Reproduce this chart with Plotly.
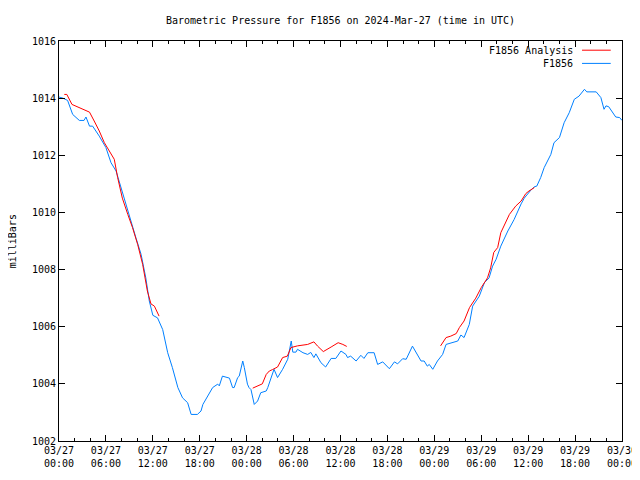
import pandas as pd
import plotly.graph_objects as go

BASE = pd.Timestamp("2024-03-27 00:00")

# Observed pressure (F1856): hours since 03/27 00:00 UTC, millibars
obs_hours = [0.0, 0.5, 1.1, 1.75, 2.6, 3.2, 3.45, 3.9, 4.3, 5.15, 6.0, 6.65, 7.3, 7.9, 8.55, 9.2, 9.85,
             10.5, 11.1, 11.55, 12.0, 12.6, 13.26, 13.9, 14.5, 15.2, 15.8, 16.45, 16.9, 17.7, 18.16, 18.4,
             19.65, 20.3, 20.5, 20.9, 21.8, 22.2, 22.4, 22.85, 23.05, 23.5, 23.7, 24.1, 24.3, 24.55, 24.97,
             25.4, 25.8, 26.5, 26.7, 27.1, 27.5, 27.95, 28.6, 29.25, 29.7, 29.9, 30.3, 30.5, 31.2, 31.8,
             32.2, 32.6, 32.85, 33.5, 34.1, 34.8, 35.4, 36.06, 36.7, 36.9, 37.3, 38.0, 38.6, 39.0, 39.5,
             40.3, 40.75, 41.4, 42.25, 42.9, 43.3, 43.95, 44.4, 45.2, 45.85, 46.3, 46.7, 47.1, 47.35, 47.8,
             48.4, 49.06, 49.5, 50.35, 51.0, 51.4, 51.8, 52.47, 52.9, 53.75, 54.4, 55.0, 55.45, 55.9, 56.5,
             57.4, 58.2, 59.1, 59.5, 60.35, 60.8, 61.1, 61.6, 62.05, 62.9, 63.3, 64.0, 64.6, 65.25, 65.9,
             66.5, 67.2, 67.5, 68.7, 69.3, 69.7, 69.95, 70.3, 71.0, 71.2, 71.7, 72.0]
obs_mb = [1014.04, 1014.0, 1013.92, 1013.43, 1013.22, 1013.22, 1013.34, 1013.02, 1013.02, 1012.67, 1012.27,
          1011.74, 1011.45, 1010.87, 1010.28, 1009.7, 1009.1, 1008.53, 1007.71, 1006.9, 1006.4, 1006.31,
          1005.9, 1005.09, 1004.57, 1003.87, 1003.51, 1003.34, 1002.93, 1002.93, 1003.05, 1003.28, 1003.87,
          1003.99, 1003.93, 1004.27, 1004.2, 1003.87, 1003.87, 1004.22, 1004.27, 1004.8, 1004.57, 1003.99,
          1003.87, 1003.8, 1003.28, 1003.4, 1003.69, 1003.75, 1003.87, 1004.22, 1004.51, 1004.22, 1004.51,
          1004.86, 1005.5, 1005.11, 1005.11, 1005.21, 1005.09, 1005.03, 1005.1, 1004.92, 1005.05, 1004.74,
          1004.59, 1004.89, 1004.89, 1005.15, 1005.03, 1004.92, 1004.97, 1004.8, 1005.0, 1004.89, 1005.09,
          1005.09, 1004.68, 1004.77, 1004.53, 1004.77, 1004.7, 1004.88, 1004.86, 1005.32, 1005.03, 1004.8,
          1004.8, 1004.62, 1004.68, 1004.51, 1004.8, 1005.03, 1005.38, 1005.44, 1005.5, 1005.71, 1005.62,
          1006.08, 1006.72, 1007.07, 1007.54, 1007.71, 1008.12, 1008.36, 1008.82, 1009.35, 1009.75, 1010.3,
          1010.5, 1010.78, 1010.9, 1010.92, 1011.22, 1011.57, 1012.03, 1012.44, 1012.62, 1013.14, 1013.49,
          1013.96, 1014.07, 1014.31, 1014.22, 1014.22, 1014.02, 1013.61, 1013.73, 1013.7, 1013.43, 1013.34,
          1013.32, 1013.22]

# Analysis segments (F1856 Analysis)
ana1_hours = [0.68, 1.0, 1.66, 2.6, 3.9, 4.5, 5.15, 5.8, 6.4, 7.07, 7.5, 8.1, 8.8, 9.4, 10.06, 10.7,
              11.3, 11.76, 12.2, 12.8]
ana1_mb = [1014.13, 1014.13, 1013.78, 1013.67, 1013.51, 1013.2, 1012.85, 1012.44, 1012.15, 1011.86,
           1011.22, 1010.5, 1009.93, 1009.47, 1008.88, 1008.18, 1007.25, 1006.8, 1006.72, 1006.37]
ana2_hours = [24.77, 25.6, 26.0, 26.5, 26.9, 27.3, 27.95, 28.6, 29.2, 29.66, 30.5, 31.8, 32.6, 33.07,
              33.8, 34.8, 35.7, 36.3, 36.8]
ana2_mb = [1003.85, 1003.96, 1004.0, 1004.33, 1004.45, 1004.5, 1004.59, 1004.92, 1004.97, 1005.27,
           1005.33, 1005.38, 1005.47, 1005.32, 1005.13, 1005.29, 1005.44, 1005.38, 1005.31]
ana3_hours = [48.8, 49.5, 50.1, 50.8, 51.2, 51.8, 52.5, 53.3, 54.0, 54.8, 55.2, 55.6, 56.1, 56.5, 57.6,
              58.4, 59.1, 59.7, 60.1, 60.8]
ana3_mb = [1005.33, 1005.62, 1005.67, 1005.76, 1005.97, 1006.2, 1006.67, 1007.0, 1007.37, 1007.71,
           1008.06, 1008.6, 1008.77, 1009.29, 1009.93, 1010.22, 1010.4, 1010.66, 1010.75, 1010.87]

tick_hours = [0, 6, 12, 18, 24, 30, 36, 42, 48, 54, 60, 66, 72]
tick_labels = ["03/27<br>00:00", "03/27<br>06:00", "03/27<br>12:00", "03/27<br>18:00",
               "03/28<br>00:00", "03/28<br>06:00", "03/28<br>12:00", "03/28<br>18:00",
               "03/29<br>00:00", "03/29<br>06:00", "03/29<br>12:00", "03/29<br>18:00",
               "03/30<br>00:00"]

RED = "#ff0000"
BLUE = "#0080ff"
FONT = "DejaVu Sans Mono"


def to_time(hours):
    return [None if h is None else BASE + pd.Timedelta(hours=h) for h in hours]


ana_hours = ana1_hours + [None] + ana2_hours + [None] + ana3_hours
ana_mb = ana1_mb + [None] + ana2_mb + [None] + ana3_mb

fig = go.Figure()
fig.add_trace(go.Scatter(x=to_time(obs_hours), y=obs_mb, mode="lines", name="F1856",
                         line=dict(color=BLUE, width=1), showlegend=False))
fig.add_trace(go.Scatter(x=to_time(ana_hours), y=ana_mb, mode="lines", name="F1856 Analysis",
                         line=dict(color=RED, width=1), connectgaps=False, showlegend=False))

# Legend drawn gnuplot-style (text then sample line on the right)
legend_items = [("F1856 Analysis", RED, 0.977), ("F1856", BLUE, 0.944)]
for label, color, yp in legend_items:
    fig.add_annotation(x=0.917, y=yp, xref="paper", yref="paper", text=label, showarrow=False,
                       xanchor="right", yanchor="middle", font=dict(family=FONT, size=10, color="black"))
    fig.add_shape(type="line", xref="paper", yref="paper", x0=0.929, x1=0.98, y0=yp, y1=yp,
                  line=dict(color=color, width=1))

# Y axis title placed like gnuplot's ylabel
fig.add_annotation(x=-0.083, y=0.5, xref="paper", yref="paper", text="milliBars", showarrow=False,
                   textangle=-90, xanchor="center", yanchor="middle",
                   font=dict(family=FONT, size=10, color="black"))

fig.update_layout(
    width=640, height=480,
    margin=dict(l=51, r=26, t=33, b=47, autoexpand=False),
    paper_bgcolor="white", plot_bgcolor="white",
    font=dict(family=FONT, size=10, color="black"),
    title=dict(text="Barometric Pressure for F1856 on 2024-Mar-27 (time in UTC)",
               x=0.5, xref="paper", xanchor="center", y=1 - 12 / 480, yref="container",
               yanchor="middle", font=dict(family=FONT, size=10, color="black")),
    showlegend=False,
)

fig.update_xaxes(
    type="date", automargin=False,
    range=[BASE, BASE + pd.Timedelta(hours=72)],
    tickvals=to_time(tick_hours), ticktext=tick_labels,
    ticks="inside", ticklen=6, tickwidth=1, tickcolor="black",
    minor=dict(ticks="inside", ticklen=3, tickcolor="black", dtick=2 * 3600 * 1000,
               tick0=BASE, showgrid=False),
    showline=True, linecolor="black", linewidth=1, mirror="ticks",
    showgrid=False, zeroline=False,
    tickfont=dict(family=FONT, size=10),
)
fig.update_yaxes(
    automargin=False,
    range=[1002, 1016], dtick=2, tick0=1002,
    ticks="inside", ticklen=6, tickwidth=1, tickcolor="black",
    showline=True, linecolor="black", linewidth=1, mirror="ticks",
    showgrid=False, zeroline=False,
    tickfont=dict(family=FONT, size=10),
)

fig.write_html("out.html")
